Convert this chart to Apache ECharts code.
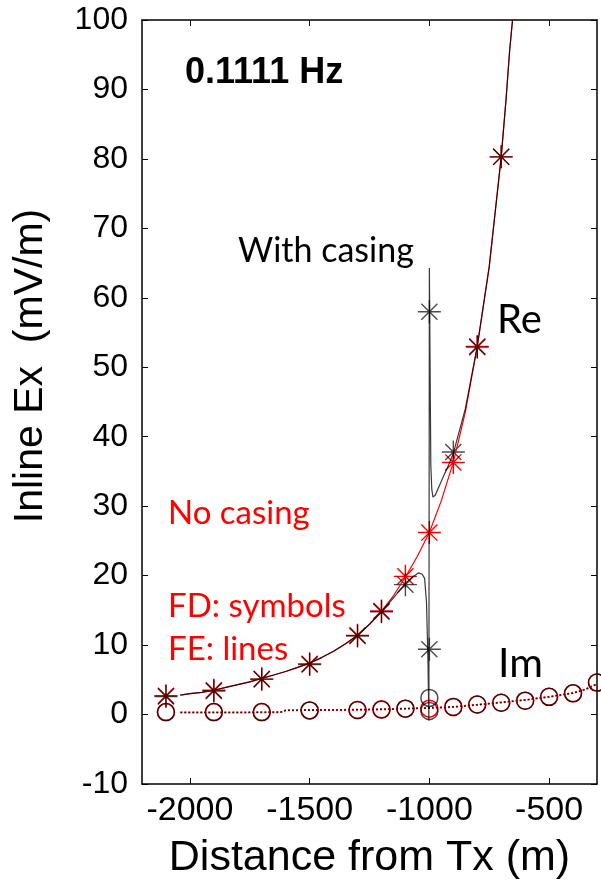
<!DOCTYPE html>
<html>
<head>
<meta charset="utf-8">
<script src="https://cdn.jsdelivr.net/npm/echarts@6/dist/echarts.min.js"></script>
<style>
  html, body { margin: 0; padding: 0; background: #ffffff; }
  #chart { width: 601px; height: 890px; }
</style>
</head>
<body>
<div id="chart"></div>
<script>
// FD solution (symbols), no casing: real part
const fdDist = [-2100, -1900, -1700, -1500, -1300, -1200, -1100, -1000, -900, -800, -700];
const reNoCasingFD = [2.7, 3.5, 5.1, 7.3, 11.4, 14.9, 19.9, 26.2, 36.3, 53.0, 80.3];

// FD solution, with casing: real part (two samples either side of the casing at -1000 m)
const fdDistCasing = [-2100, -1900, -1700, -1500, -1300, -1200, -1100, -1000, -1000, -900, -800, -700];
const reCasingFD = [2.6, 3.4, 5.1, 7.2, 11.3, 14.8, 18.7, 58.0, 9.4, 37.8, 52.9, 80.3];

// FD imaginary part
const imDist = [-2100, -1900, -1700, -1500, -1300, -1200, -1100, -1000, -900, -800, -700, -600, -500, -400, -300];
const imNoCasingFD = [0.35, 0.35, 0.35, 0.6, 0.65, 0.75, 0.85, 0.85, 1.1, 1.45, 1.7, 2.0, 2.55, 3.05, 4.6];
const imDistCasing = [-2100, -1900, -1700, -1500, -1300, -1200, -1100, -1000, -1000, -900, -800, -700, -600, -500, -400, -300];
const imCasingFD = [0.35, 0.35, 0.35, 0.6, 0.65, 0.7, 0.85, 2.4, 0.5, 1.1, 1.45, 1.7, 2.0, 2.55, 3.05, 4.6];

// FE solution (lines), no casing: real part
const feReDist = [-2040, -2000, -1950, -1900, -1850, -1800, -1750, -1700, -1650, -1600, -1550, -1500,
  -1450, -1400, -1350, -1300, -1250, -1200, -1150, -1100, -1050, -1000, -950, -900, -850, -800,
  -750, -700, -680, -665, -650];
const feReNoCasing = [2.8, 3.0, 3.2, 3.5, 3.9, 4.3, 4.7, 5.2, 5.7, 6.2, 6.8, 7.4,
  8.2, 9.1, 10.2, 11.4, 13.0, 14.9, 17.1, 19.8, 22.8, 26.2, 30.8, 36.3, 43.5, 53.0,
  64.5, 80.3, 88.5, 95.5, 101];

// FE solution, with casing: real part
const feReCasingDist = [-2040, -2000, -1950, -1900, -1850, -1800, -1750, -1700, -1650, -1600, -1550, -1500,
  -1450, -1400, -1350, -1300, -1250, -1200, -1150, -1100, -1070, -1045, -1030, -1020, -1012, -1006,
  -1002, -1000, -994, -990, -985, -975, -960, -940, -925, -900, -850, -800,
  -750, -700, -680, -665, -650];
const feReCasing = [2.8, 3.0, 3.2, 3.5, 3.9, 4.3, 4.7, 5.2, 5.7, 6.2, 6.8, 7.4,
  8.2, 9.1, 10.2, 11.4, 13.0, 14.8, 16.8, 18.9, 19.8, 20.4, 20.2, 19.6, 16.2, 8.0,
  -0.9, 64.3, 36.0, 32.5, 31.3, 31.6, 32.8, 34.4, 35.5, 37.6, 44.0, 53.0,
  64.5, 80.3, 88.5, 95.5, 101];

// FE imaginary part
const feImDist = [-2040, -1800, -1620, -1600, -1500, -1400, -1300, -1200, -1100, -1000, -900, -800,
  -700, -600, -500, -400, -350, -300];
const feIm = [0.3, 0.3, 0.35, 0.6, 0.65, 0.65, 0.7, 0.75, 0.85, 0.95, 1.1, 1.4,
  1.75, 2.1, 2.55, 3.1, 3.6, 4.4];

const xTicks = [-2000, -1500, -1000, -500];

const zip = (xs, ys) => xs.map((x, i) => [x, ys[i]]);

const RED = '#ff0000';
const BLACK = '#000000';
const STAR = 'path://M0,10L20,10M10,0L10,20M3,3L17,17M3,17L17,3';
const AXIS_FONT = '"Liberation Sans", Arial, Helvetica, sans-serif';
const NOTE_FONT = 'Lato, "Open Sans", sans-serif';

function feLine(data, color, dotted, width, opacity) {
  return {
    type: 'line', data, showSymbol: false, symbol: 'none', clip: true,
    silent: true, animation: false,
    lineStyle: { color, width, type: dotted ? [2, 2] : 'solid', opacity }
  };
}
function fdMarks(data, color, symbol, size, width, opacity) {
  return {
    type: 'scatter', data, symbol, symbolSize: size, clip: true,
    silent: true, animation: false,
    itemStyle: { color: 'none', borderColor: color, borderWidth: width, opacity }
  };
}

const boxLine = { show: true, onZero: false, lineStyle: { color: BLACK, width: 1.5 } };
const plain = v => String(v);

const chart = echarts.init(document.getElementById('chart'), null, { renderer: 'canvas' });
chart.setOption({
  backgroundColor: '#ffffff',
  animation: false,
  grid: { left: 142, right: 4, top: 20, bottom: 106, containLabel: false },
  xAxis: [
    {
      type: 'value', min: -2200, max: -300, position: 'bottom',
      axisLine: boxLine,
      axisTick: { show: true, inside: true, length: 6, customValues: xTicks, lineStyle: { color: BLACK, width: 1 } },
      axisLabel: { show: true, customValues: xTicks, formatter: plain, margin: 10, color: BLACK, fontSize: 34, fontFamily: AXIS_FONT },
      splitLine: { show: false },
      name: 'Distance from Tx (m)', nameLocation: 'middle', nameGap: 53,
      nameTextStyle: { color: BLACK, fontSize: 43, fontFamily: AXIS_FONT }
    },
    {
      type: 'value', min: -2200, max: -300, position: 'top',
      axisLine: boxLine,
      axisTick: { show: true, inside: true, length: 6, customValues: xTicks, lineStyle: { color: BLACK, width: 1 } },
      axisLabel: { show: false },
      splitLine: { show: false }
    }
  ],
  yAxis: [
    {
      type: 'value', min: -10, max: 100, interval: 10, position: 'left',
      axisLine: boxLine,
      axisTick: { show: true, inside: true, length: 6, lineStyle: { color: BLACK, width: 1 } },
      axisLabel: { show: true, formatter: plain, margin: 14, color: BLACK, fontSize: 32, fontFamily: AXIS_FONT },
      splitLine: { show: false }
    },
    {
      type: 'value', min: -10, max: 100, interval: 10, position: 'right',
      axisLine: boxLine,
      axisTick: { show: true, inside: true, length: 6, lineStyle: { color: BLACK, width: 1 } },
      axisLabel: { show: false },
      splitLine: { show: false }
    }
  ],
  series: [
    // no casing (red) underneath
    feLine(zip(feReDist, feReNoCasing), RED, false, 1.2, 1),
    feLine(zip(feImDist, feIm), RED, true, 2, 1),
    fdMarks(zip(fdDist, reNoCasingFD), RED, STAR, 23, 1.4, 1),
    fdMarks(zip(imDist, imNoCasingFD), RED, 'circle', 17, 1.5, 1),
    // with casing (black) on top
    feLine(zip(feReCasingDist, feReCasing), BLACK, false, 1.2, 0.78),
    feLine(zip(feImDist, feIm), BLACK, true, 1.2, 0.7),
    fdMarks(zip(fdDistCasing, reCasingFD), BLACK, STAR, 23, 1.4, 0.7),
    fdMarks(zip(imDistCasing, imCasingFD), BLACK, 'circle', 17, 1.5, 0.7)
  ],
  graphic: [
    { type: 'text', x: 31, y: 366, rotation: Math.PI / 2, silent: true,
      style: { text: 'Inline Ex  (mV/m)', font: '41px ' + AXIS_FONT, fill: BLACK, align: 'center', verticalAlign: 'middle' } },
    { type: 'text', x: 185, y: 73, silent: true,
      style: { text: '0.1111 Hz', font: 'bold 36px ' + AXIS_FONT, fill: BLACK, align: 'left', verticalAlign: 'middle' } },
    { type: 'text', x: 326, y: 251, silent: true,
      style: { text: 'With casing', font: '34px ' + NOTE_FONT, fill: BLACK, align: 'center', verticalAlign: 'middle' } },
    { type: 'text', x: 497, y: 320, silent: true,
      style: { text: 'Re', font: '40px ' + NOTE_FONT, fill: BLACK, align: 'left', verticalAlign: 'middle' } },
    { type: 'text', x: 498, y: 664, silent: true,
      style: { text: 'Im', font: '41px ' + NOTE_FONT, fill: BLACK, align: 'left', verticalAlign: 'middle' } },
    { type: 'text', x: 168, y: 513, silent: true,
      style: { text: 'No casing', font: '33px ' + NOTE_FONT, fill: RED, align: 'left', verticalAlign: 'middle' } },
    { type: 'text', x: 168, y: 606, silent: true,
      style: { text: 'FD: symbols', font: '33px ' + NOTE_FONT, fill: RED, align: 'left', verticalAlign: 'middle' } },
    { type: 'text', x: 168, y: 649, silent: true,
      style: { text: 'FE: lines', font: '33px ' + NOTE_FONT, fill: RED, align: 'left', verticalAlign: 'middle' } }
  ]
});
</script>
</body>
</html>
